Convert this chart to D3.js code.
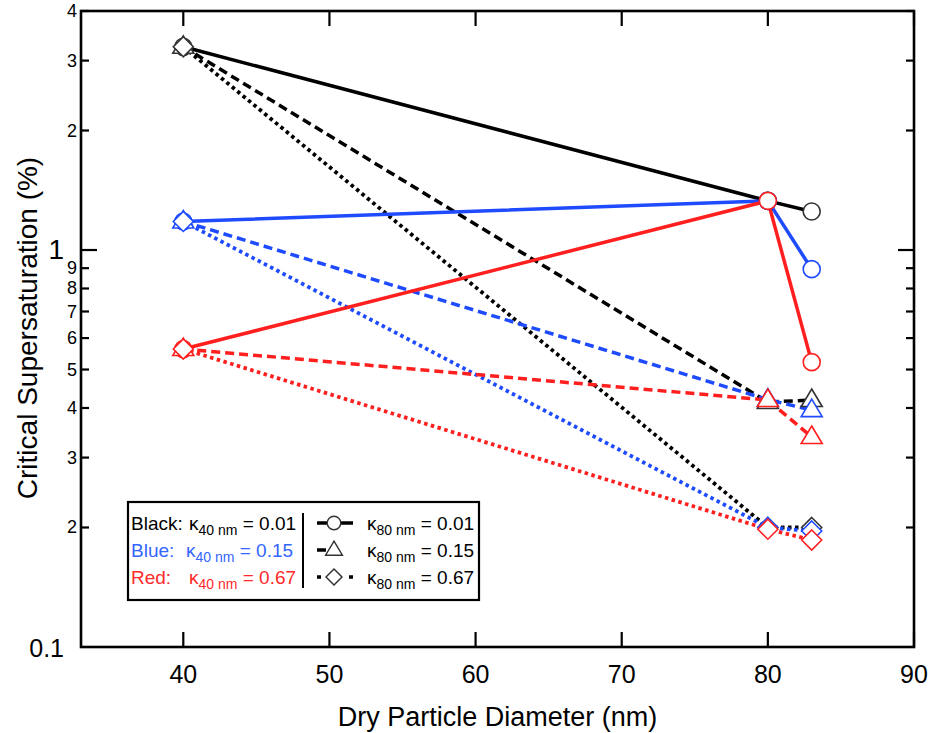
<!DOCTYPE html>
<html>
<head>
<meta charset="utf-8">
<script src="https://cdn.jsdelivr.net/npm/d3@7/dist/d3.min.js"></script>
<style>
  body { margin: 0; background: #fff; }
  svg { font-family: "Liberation Sans", Arial, sans-serif; }
</style>
</head>
<body>
<svg id="chart" width="931" height="733"></svg>
<script>
// Dry diameters (nm) where the critical supersaturation was computed
const diameters = [40, 80, 83];

// Critical supersaturation (%) for each kappa40 colour / kappa80 line style
const blackSolid  = [3.25, 1.33, 1.25];
const blueSolid   = [1.18, 1.33, 0.895];
const redSolid    = [0.563, 1.33, 0.522];
const blackDashed = [3.25, 0.414, 0.419];
const blueDashed  = [1.18, 0.42, 0.395];
const redDashed   = [0.563, 0.419, 0.338];
const blackDotted = [3.25, 0.2, 0.2];
const blueDotted  = [1.18, 0.2, 0.196];
const redDotted   = [0.563, 0.198, 0.186];

const xTicks = [40, 50, 60, 70, 80, 90];
const yTicks = [0.2, 0.3, 0.4, 0.5, 0.6, 0.7, 0.8, 0.9, 1, 2, 3, 4];
const yTickLabels = ["2", "3", "4", "5", "6", "7", "8", "9", "1", "2", "3", "4"];

const kappa40Names = ["Black:", "Blue:", "Red:"];
const kappa40Values = ["0.01", "0.15", "0.67"];
const kappa80Values = ["0.01", "0.15", "0.67"];

const colors = { black: "#000000", blue: "#1f4bff", red: "#ff1f1f" };
const textColors = ["#000000", "#3366ff", "#ff2a2a"];
const markerStroke = { black: "#333333", blue: "#1f4bff", red: "#ff1f1f" };

const series = [
    { values: blackSolid,  color: "black", style: "solid",  marker: "circle" },
    { values: blackDashed, color: "black", style: "dashed", marker: "triangle" },
    { values: blackDotted, color: "black", style: "dotted", marker: "diamond" },
    { values: blueSolid,   color: "blue",  style: "solid",  marker: "circle" },
    { values: blueDashed,  color: "blue",  style: "dashed", marker: "triangle" },
    { values: blueDotted,  color: "blue",  style: "dotted", marker: "diamond" },
    { values: redSolid,    color: "red",   style: "solid",  marker: "circle" },
    { values: redDashed,   color: "red",   style: "dashed", marker: "triangle" },
    { values: redDotted,   color: "red",   style: "dotted", marker: "diamond" }
];

const dashes = { solid: null, dashed: "9,5", dotted: "3.5,3.5" };

const plotLeft = 81, plotRight = 914, plotTop = 11, plotBottom = 647;

const svg = d3.select("#chart");

let x = d3.scaleLinear().domain([33, 90]).range([plotLeft, plotRight]);
let y = d3.scaleLog().domain([0.1, 4]).range([plotBottom, plotTop]);

// marker path generators, centred on 0,0
function markerPath(kind) {
    if (kind === "circle") return d3.symbol().type(d3.symbolCircle).size(Math.PI * 8.5 * 8.5)();
    if (kind === "triangle") return "M0,-11L10.5,6.5L-10.5,6.5Z";
    return "M0,-10L10,0L0,10L-10,0Z";
}

// ticks (inward, on all four sides)
let ticks = svg.append("g").attr("stroke", "#000").attr("stroke-width", 2.2);
xTicks.forEach(t => {
    ticks.append("line").attr("x1", x(t)).attr("x2", x(t)).attr("y1", plotBottom).attr("y2", plotBottom - 15);
    ticks.append("line").attr("x1", x(t)).attr("x2", x(t)).attr("y1", plotTop).attr("y2", plotTop + 15);
});
yTicks.forEach(t => {
    let len = (t === 1) ? 16 : 8;
    ticks.append("line").attr("x1", plotLeft).attr("x2", plotLeft + len).attr("y1", y(t)).attr("y2", y(t));
    ticks.append("line").attr("x1", plotRight).attr("x2", plotRight - len).attr("y1", y(t)).attr("y2", y(t));
});

// data lines and markers
let line = d3.line().x((d, i) => x(diameters[i])).y(d => y(d));

series.forEach(s => {
    svg.append("path")
        .attr("d", line(s.values))
        .attr("fill", "none")
        .attr("stroke", colors[s.color])
        .attr("stroke-width", s.style === "dotted" ? 3.8 : 3.5)
        .attr("stroke-dasharray", dashes[s.style]);
});
series.forEach(s => {
    svg.selectAll(null).data(s.values).enter().append("path")
        .attr("d", markerPath(s.marker))
        .attr("transform", (d, i) => "translate(" + x(diameters[i]) + "," + y(d) + ")")
        .attr("fill", "#fff")
        .attr("stroke", markerStroke[s.color])
        .attr("stroke-width", 1.6);
});

// frame
svg.append("rect")
    .attr("x", plotLeft).attr("y", plotTop)
    .attr("width", plotRight - plotLeft).attr("height", plotBottom - plotTop)
    .attr("fill", "none").attr("stroke", "#000").attr("stroke-width", 2.6);

// tick labels
svg.selectAll(".xlab").data(xTicks).enter().append("text")
    .attr("class", "xlab")
    .attr("x", d => x(d)).attr("y", 683)
    .attr("text-anchor", "middle")
    .attr("font-size", 25)
    .text(d => d);

yTicks.forEach((t, i) => {
    let big = (t === 1);
    svg.append("text")
        .attr("x", big ? 64 : 77)
        .attr("y", y(t) + (big ? 9 : 6))
        .attr("text-anchor", "end")
        .attr("font-size", big ? 28 : 18)
        .text(yTickLabels[i]);
});
svg.append("text")
    .attr("x", 64).attr("y", y(0.1) + 10)
    .attr("text-anchor", "end")
    .attr("font-size", 25)
    .text("0.1");

// axis titles
svg.append("text")
    .attr("x", (plotLeft + plotRight) / 2).attr("y", 726)
    .attr("text-anchor", "middle")
    .attr("font-size", 27)
    .text("Dry Particle Diameter (nm)");

svg.append("text")
    .attr("transform", "translate(37,328) rotate(-90)")
    .attr("text-anchor", "middle")
    .attr("font-size", 28)
    .text("Critical Supersaturation (%)");

// legend
let legend = svg.append("g");
legend.append("rect")
    .attr("x", 128).attr("y", 502).attr("width", 351).attr("height", 98)
    .attr("fill", "#fff").attr("stroke", "#000").attr("stroke-width", 2.2);
legend.append("line")
    .attr("x1", 303).attr("x2", 303).attr("y1", 513).attr("y2", 588)
    .attr("stroke", "#000").attr("stroke-width", 2);

const rowY = [530, 557, 584];
const sampleStyles = ["solid", "dashed", "dotted"];
const sampleMarkers = ["circle", "triangle", "diamond"];
const kappaX = [189, 186, 189];

rowY.forEach((ry, i) => {
    let t = legend.append("text").attr("y", ry).attr("font-size", 19).attr("fill", textColors[i]);
    t.append("tspan").attr("x", 131).text(kappa40Names[i]);
    t.append("tspan").attr("x", kappaX[i]).text("\u03ba");
    t.append("tspan").attr("font-size", 14).attr("dy", 5).text("40 nm");
    t.append("tspan").attr("dy", -5).text(" = " + kappa40Values[i]);

    legend.append("line")
        .attr("x1", 317).attr("x2", 353).attr("y1", ry - 7).attr("y2", ry - 7)
        .attr("stroke", "#000").attr("stroke-width", 3.5)
        .attr("stroke-dasharray", sampleStyles[i] === "dashed" ? "9,27" : (sampleStyles[i] === "dotted" ? "4,28" : null));
    legend.append("path")
        .attr("d", markerPath(sampleMarkers[i]))
        .attr("transform", "translate(334," + (ry - 7) + ") scale(0.8)")
        .attr("fill", "#fff").attr("stroke", "#333").attr("stroke-width", 1.8);

    let r = legend.append("text").attr("y", ry).attr("font-size", 19).attr("fill", "#000");
    r.append("tspan").attr("x", 367).text("\u03ba");
    r.append("tspan").attr("font-size", 14).attr("dy", 5).text("80 nm");
    r.append("tspan").attr("dy", -5).text(" = " + kappa80Values[i]);
});
</script>
</body>
</html>
